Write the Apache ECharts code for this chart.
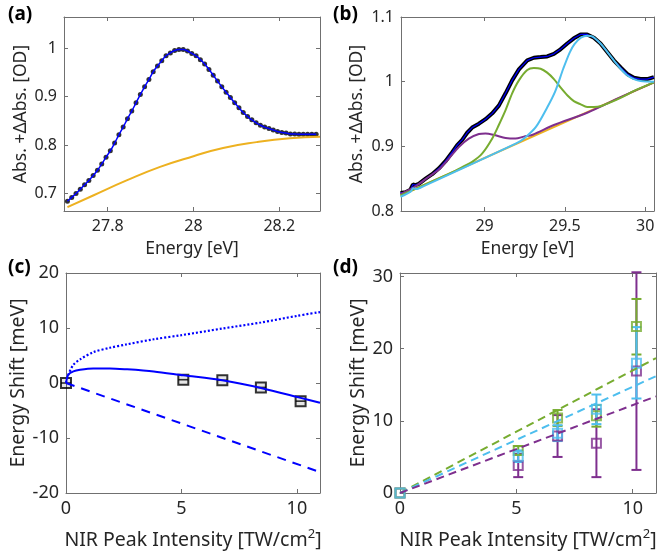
<!DOCTYPE html>
<html>
<head>
<meta charset="utf-8">
<script src="https://cdn.jsdelivr.net/npm/echarts@6/dist/echarts.min.js"></script>
<style>
html, body { margin: 0; padding: 0; background: #fff; }
#chart { width: 659px; height: 551px; }
</style>
</head>
<body>
<div id="chart"></div>
<script>
// ---- panel (a): single peak, data points + fit + background
var aEnergy = [27.706, 27.716, 27.726, 27.736, 27.746, 27.756, 27.766, 27.776, 27.786, 27.796,
    27.806, 27.816, 27.826, 27.836, 27.846, 27.856, 27.866, 27.876, 27.886, 27.896,
    27.906, 27.916, 27.926, 27.936, 27.946, 27.956, 27.966, 27.976, 27.986, 27.996,
    28.006, 28.016, 28.026, 28.036, 28.046, 28.056, 28.066, 28.076, 28.086, 28.096,
    28.106, 28.116, 28.126, 28.136, 28.146, 28.156, 28.166, 28.176, 28.186, 28.196,
    28.206, 28.216, 28.226, 28.236, 28.246, 28.256, 28.266, 28.276, 28.286];
var aAbs = [0.684, 0.692, 0.700, 0.709, 0.718, 0.727, 0.737, 0.748, 0.761, 0.775,
    0.788, 0.804, 0.821, 0.837, 0.854, 0.870, 0.887, 0.904, 0.920, 0.935,
    0.951, 0.963, 0.974, 0.984, 0.990, 0.995, 0.997, 0.997, 0.994, 0.989,
    0.984, 0.976, 0.967, 0.956, 0.944, 0.932, 0.920, 0.909, 0.898, 0.887,
    0.877, 0.867, 0.859, 0.852, 0.846, 0.841, 0.837, 0.834, 0.831, 0.828,
    0.826, 0.825, 0.823, 0.823, 0.822, 0.822, 0.822, 0.822, 0.822];
var aBgEnergy = [27.706, 27.766, 27.844, 27.922, 28.0, 28.069, 28.147, 28.225, 28.295];
var aBg = [0.672, 0.696, 0.727, 0.755, 0.777, 0.794, 0.806, 0.814, 0.817];
var aXTicks = [27.8, 28, 28.2];
var aYTicks = [0.7, 0.8, 0.9, 1];

// ---- panel (b): data + three peak components on a linear background
var bEnergy = [28.477, 28.508, 28.539, 28.554, 28.570, 28.591, 28.633, 28.674, 28.716, 28.757,
    28.799, 28.830, 28.861, 28.892, 28.923, 28.965, 29.006, 29.048, 29.089, 29.131,
    29.172, 29.214, 29.266, 29.307, 29.349, 29.390, 29.432, 29.473, 29.515, 29.556,
    29.598, 29.639, 29.681, 29.722, 29.764, 29.805, 29.847, 29.888, 29.930, 29.971,
    30.013, 30.054];
var bAbs = [0.828, 0.829, 0.833, 0.841, 0.840, 0.842, 0.850, 0.857, 0.866, 0.877,
    0.891, 0.902, 0.910, 0.921, 0.929, 0.935, 0.942, 0.951, 0.963, 0.982,
    1.002, 1.019, 1.033, 1.037, 1.038, 1.039, 1.043, 1.050, 1.059, 1.067,
    1.073, 1.073, 1.068, 1.059, 1.046, 1.033, 1.022, 1.012, 1.006, 1.004,
    1.004, 1.007];
var bBaseEnergy = [28.477, 30.055];
var bBase = [0.824, 0.999];
var bPurpleEnergy = [28.477, 28.57, 28.653, 28.716, 28.778, 28.840, 28.902, 28.965, 29.006, 29.068,
    29.131, 29.193, 29.245, 29.30, 29.432, 29.639, 29.847, 30.055];
var bPurple = [0.826, 0.838, 0.853, 0.864, 0.881, 0.899, 0.912, 0.919, 0.920, 0.917,
    0.913, 0.912, 0.915, 0.918, 0.933, 0.952, 0.976, 0.999];
var bGreenEnergy = [28.477, 28.80, 28.861, 28.923, 28.986, 29.048, 29.089, 29.131, 29.172, 29.214,
    29.266, 29.307, 29.349, 29.390, 29.432, 29.473, 29.515, 29.556, 29.598, 29.639,
    29.681, 29.722, 29.784, 29.847, 29.951, 30.055];
var bGreen = [0.824, 0.860, 0.868, 0.876, 0.889, 0.912, 0.933, 0.956, 0.982, 1.002,
    1.018, 1.021, 1.020, 1.014, 1.004, 0.991, 0.979, 0.970, 0.965, 0.961,
    0.961, 0.962, 0.968, 0.975, 0.988, 0.999];
var bCyanEnergy = [28.477, 28.54, 28.555, 28.58, 28.60, 29.20, 29.25, 29.32, 29.39, 29.44,
    29.49, 29.53, 29.56, 29.60, 29.64, 29.67, 29.722, 29.764, 29.805, 29.847,
    29.888, 29.930, 29.971, 30.055];
var bCyan = [0.822, 0.830, 0.835, 0.834, 0.836, 0.905, 0.913, 0.930, 0.960, 0.985,
    1.020, 1.045, 1.058, 1.068, 1.071, 1.070, 1.059, 1.046, 1.033, 1.020,
    1.010, 1.004, 1.001, 1.000];
var bXTicks = [29, 29.5, 30];
var bYTicks = [0.8, 0.9, 1, 1.1];

// ---- panel (c): energy shift vs intensity, one peak
var cIntensity = [0, 5.08, 6.77, 8.44, 10.16];
var cShift = [0, 0.6, 0.5, -0.8, -3.3];
var cFitX = [0, 0.1, 0.32, 0.61, 1.18, 1.9, 2.6, 3.8, 5.08, 6.77, 8.44, 10.16, 11];
var cFit = [0, 1.5, 2.1, 2.4, 2.65, 2.65, 2.5, 2.1, 1.4, 0.5, -0.9, -2.7, -3.6];
var cDotX = [0, 0.1, 0.32, 0.61, 1.18, 1.9, 2.6, 3.8, 5, 6.77, 8.44, 10, 11];
var cDot = [0, 1.5, 3.3, 4.3, 5.6, 6.4, 7.0, 7.95, 8.7, 9.9, 11.0, 12.2, 12.9];
var cDashX = [0, 11];
var cDash = [0, -16.2];
var cXTicks = [0, 5, 10];
var cYTicks = [-20, -10, 0, 10, 20];

// ---- panel (d): energy shift vs intensity, three peaks with error bars
var dIntensity = [0, 5.08, 6.77, 8.44, 10.16];
var dGreen = [0, 5.9, 10.4, 10.7, 23.1];
var dGreenLo = [0, 5.3, 9.3, 9.2, 19.2];
var dGreenHi = [0, 6.5, 11.5, 12.2, 26.9];
var dCyan = [0, 5.1, 8.3, 11.6, 18.0];
var dCyanLo = [0, 4.3, 7.2, 9.55, 13.1];
var dCyanHi = [0, 5.9, 9.4, 13.65, 23.0];
var dPurple = [0, 3.8, 7.9, 6.9, 16.9];
var dPurpleLo = [0, 2.2, 5.0, 2.2, 3.2];
var dPurpleHi = [0, 5.4, 10.8, 11.6, 30.6];
var dFitX = [0, 11];
var dGreenFit = [0, 18.7];
var dCyanFit = [0, 16.2];
var dPurpleFit = [0, 13.4];
var dXTicks = [0, 5, 10];
var dYTicks = [0, 10, 20, 30];

var BLUE = '#0000FF', ORANGE = '#EDB120', CYAN = '#4DBEEE', GREEN = '#77AC30', PURPLE = '#7E2F8E';
var FONT = 'Noto Sans';
var axisGray = '#707070';
var textGray = '#262626';

function pairs(xs, ys) {
    return xs.map(function (x, i) { return [x, ys[i]]; });
}
function bars(xs, lo, hi) {
    var out = [];
    xs.forEach(function (x, i) { if (hi[i] > lo[i]) out.push([x, lo[i], hi[i]]); });
    return out;
}

function xAxes(gi, min, max, ticks, name, gap, nameSize, tickSize) {
    return [{
        gridIndex: gi, type: 'value', min: min, max: max, position: 'bottom',
        name: name, nameLocation: 'middle', nameGap: gap,
        nameTextStyle: {
            color: textGray, fontSize: nameSize, fontFamily: FONT,
            rich: { sup: { fontSize: 13, fontFamily: FONT, color: textGray, padding: [0, 0, 11, 0] } }
        },
        axisLine: { show: true, onZero: false, lineStyle: { color: axisGray } },
        axisTick: { show: true, inside: true, length: 4, customValues: ticks, lineStyle: { color: axisGray } },
        axisLabel: { customValues: ticks, color: textGray, fontSize: tickSize, fontFamily: FONT, margin: 7 },
        splitLine: { show: false }
    }, {
        gridIndex: gi, type: 'value', min: min, max: max, position: 'top',
        axisLine: { show: true, onZero: false, lineStyle: { color: axisGray } },
        axisTick: { show: true, inside: true, length: 4, customValues: ticks, lineStyle: { color: axisGray } },
        axisLabel: { show: false },
        splitLine: { show: false }
    }];
}
function yAxes(gi, min, max, ticks, name, gap, nameSize, tickSize) {
    return [{
        gridIndex: gi, type: 'value', min: min, max: max, position: 'left',
        name: name, nameLocation: 'middle', nameGap: gap,
        nameTextStyle: { color: textGray, fontSize: nameSize, fontFamily: FONT },
        axisLine: { show: true, onZero: false, lineStyle: { color: axisGray } },
        axisTick: { show: true, inside: true, length: 4, customValues: ticks, lineStyle: { color: axisGray } },
        axisLabel: { customValues: ticks, color: textGray, fontSize: tickSize, fontFamily: FONT, margin: 7 },
        splitLine: { show: false }
    }, {
        gridIndex: gi, type: 'value', min: min, max: max, position: 'right',
        axisLine: { show: true, onZero: false, lineStyle: { color: axisGray } },
        axisTick: { show: true, inside: true, length: 4, customValues: ticks, lineStyle: { color: axisGray } },
        axisLabel: { show: false },
        splitLine: { show: false }
    }];
}

function line(gi, data, color, width, extra) {
    var s = {
        type: 'line', xAxisIndex: 2 * gi, yAxisIndex: 2 * gi, data: data,
        showSymbol: false, symbol: 'none', silent: true,
        lineStyle: { color: color, width: width }
    };
    for (var k in extra) s[k] = extra[k];
    if (extra && extra.dash) s.lineStyle.type = extra.dash;
    return s;
}
function errorBars(gi, data, color) {
    return {
        type: 'custom', xAxisIndex: 2 * gi, yAxisIndex: 2 * gi, data: data, silent: true,
        renderItem: function (params, api) {
            var lo = api.coord([api.value(0), api.value(1)]);
            var hi = api.coord([api.value(0), api.value(2)]);
            var w = 5;
            var st = { stroke: color, lineWidth: 2, fill: null };
            return {
                type: 'group', children: [
                    { type: 'line', shape: { x1: lo[0], y1: lo[1], x2: hi[0], y2: hi[1] }, style: st },
                    { type: 'line', shape: { x1: lo[0] - w, y1: lo[1], x2: lo[0] + w, y2: lo[1] }, style: st },
                    { type: 'line', shape: { x1: hi[0] - w, y1: hi[1], x2: hi[0] + w, y2: hi[1] }, style: st }
                ]
            };
        }
    };
}
function squares(gi, data, color) {
    return {
        type: 'scatter', xAxisIndex: 2 * gi, yAxisIndex: 2 * gi, data: data, silent: true,
        symbol: 'rect', symbolSize: 9,
        itemStyle: { color: 'rgba(0,0,0,0)', borderColor: color, borderWidth: 2 }
    };
}

var chart = echarts.init(document.getElementById('chart'));

var option = {
    animation: false,
    backgroundColor: '#fff',
    grid: [
        { left: 64, top: 17, width: 256, height: 194 },
        { left: 401, top: 17, width: 253, height: 194 },
        { left: 66, top: 273, width: 254, height: 220 },
        { left: 400, top: 273, width: 256, height: 220 }
    ],
    xAxis: [].concat(
        xAxes(0, 27.698, 28.295, aXTicks, 'Energy [eV]', 29, 17.5, 16),
        xAxes(1, 28.48, 30.055, bXTicks, 'Energy [eV]', 29, 17.5, 16),
        xAxes(2, 0, 11, cXTicks, 'NIR Peak Intensity [TW/cm{sup|2}]', 35, 19.5, 18),
        xAxes(3, 0, 11, dXTicks, 'NIR Peak Intensity [TW/cm{sup|2}]', 35, 19.5, 18)
    ),
    yAxis: [].concat(
        yAxes(0, 0.664, 1.064, aYTicks, 'Abs. +\u0394Abs. [OD]', 32, 17.5, 16),
        yAxes(1, 0.8, 1.1, bYTicks, 'Abs. +\u0394Abs. [OD]', 35, 17.5, 16),
        yAxes(2, -20, 20, cYTicks, 'Energy Shift [meV]', 34, 19.5, 18),
        yAxes(3, 0, 30.5, dYTicks, 'Energy Shift [meV]', 28, 19.5, 18)
    ),
    graphic: [
        { type: 'text', left: 8, top: 5, style: { text: '(a)', font: 'bold 19px "Noto Sans"', fill: '#000' } },
        { type: 'text', left: 333, top: 5, style: { text: '(b)', font: 'bold 19px "Noto Sans"', fill: '#000' } },
        { type: 'text', left: 8, top: 258, style: { text: '(c)', font: 'bold 19px "Noto Sans"', fill: '#000' } },
        { type: 'text', left: 333, top: 258, style: { text: '(d)', font: 'bold 19px "Noto Sans"', fill: '#000' } }
    ],
    series: [
        // (a)
        line(0, pairs(aBgEnergy, aBg), ORANGE, 2, { smooth: true }),
        line(0, pairs(aEnergy, aAbs), BLUE, 1.5, { smooth: true }),
        {
            type: 'scatter', xAxisIndex: 0, yAxisIndex: 0, data: pairs(aEnergy, aAbs), silent: true,
            symbol: 'circle', symbolSize: 5, itemStyle: { color: '#000' }
        },
        // (b)
        line(1, pairs(bEnergy, bAbs), '#000', 4, {}),
        line(1, pairs(bEnergy, bAbs), BLUE, 1.2, {}),
        line(1, pairs(bBaseEnergy, bBase), ORANGE, 2, {}),
        line(1, pairs(bPurpleEnergy, bPurple), PURPLE, 2, { smooth: 0.3 }),
        line(1, pairs(bGreenEnergy, bGreen), GREEN, 2, { smooth: 0.3 }),
        line(1, pairs(bCyanEnergy, bCyan), CYAN, 2, { smooth: 0.3 }),
        // (c)
        line(2, pairs(cDashX, cDash), BLUE, 2, { dash: [9, 7] }),
        line(2, pairs(cDotX, cDot), BLUE, 2.2, { smooth: 0.3, dash: [2, 2] }),
        line(2, pairs(cFitX, cFit), BLUE, 2, { smooth: 0.3 }),
        {
            type: 'scatter', xAxisIndex: 4, yAxisIndex: 4, data: pairs(cIntensity, cShift), silent: true,
            symbol: 'rect', symbolSize: 10,
            itemStyle: { color: 'rgba(0,0,0,0.12)', borderColor: '#000', borderWidth: 2 }
        },
        {
            type: 'scatter', xAxisIndex: 4, yAxisIndex: 4, data: pairs(cIntensity, cShift), silent: true,
            symbol: 'rect', symbolSize: [10, 1.6],
            itemStyle: { color: '#000' }
        },
        // (d)
        line(3, pairs(dFitX, dGreenFit), GREEN, 2, { dash: [8, 5] }),
        line(3, pairs(dFitX, dCyanFit), CYAN, 2, { dash: [8, 5] }),
        line(3, pairs(dFitX, dPurpleFit), PURPLE, 2, { dash: [8, 5] }),
        errorBars(3, bars(dIntensity, dPurpleLo, dPurpleHi), PURPLE),
        squares(3, pairs(dIntensity, dPurple), PURPLE),
        errorBars(3, bars(dIntensity, dGreenLo, dGreenHi), GREEN),
        squares(3, pairs(dIntensity, dGreen), GREEN),
        errorBars(3, bars(dIntensity, dCyanLo, dCyanHi), CYAN),
        squares(3, pairs(dIntensity, dCyan), CYAN)
    ]
};

chart.setOption(option);
</script>
</body>
</html>
